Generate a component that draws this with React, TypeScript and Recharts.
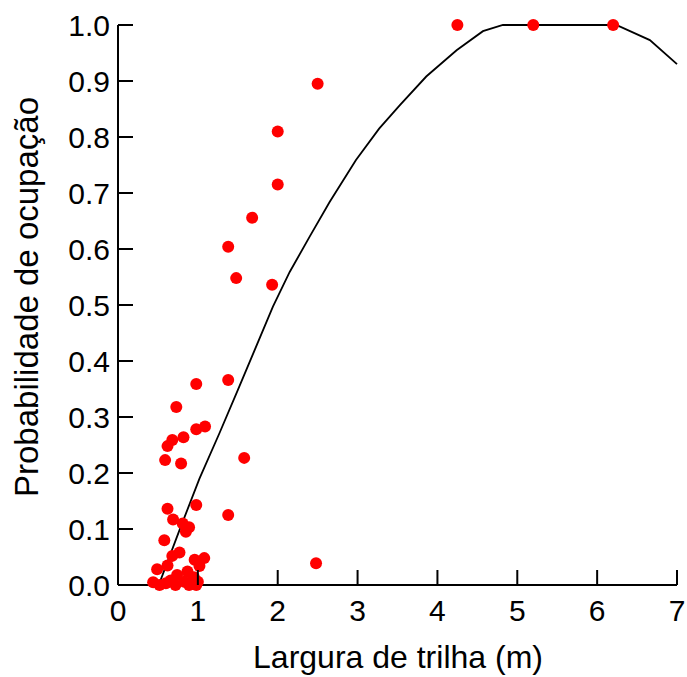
import React from "react";
import { ComposedChart, Scatter, Line, XAxis, YAxis, Label } from "recharts";

// trail width (m) and occupancy probability of each sampled point
const pointWidth = [
  4.25, 5.2, 6.2, 2.5, 2.0, 2.0, 1.68, 1.38, 1.48, 1.93, 1.38, 0.98, 0.73, 1.09,
  0.98, 0.82, 0.68, 0.62, 0.59, 0.79, 1.58, 0.62, 0.98, 1.38, 0.69, 0.81, 0.89,
  0.85, 0.58, 0.77, 0.68, 1.08, 0.96, 1.02, 0.62, 0.49, 2.48, 0.87, 0.74, 0.95,
  0.44, 0.66, 0.83, 1.0, 0.72, 0.89, 0.6, 0.98, 0.52,
];
const pointProb = [
  1.0, 1.0, 1.0, 0.895, 0.81, 0.715, 0.656, 0.604, 0.548, 0.536, 0.366, 0.359,
  0.318, 0.283, 0.278, 0.264, 0.259, 0.248, 0.223, 0.217, 0.227, 0.136, 0.143,
  0.125, 0.117, 0.11, 0.103, 0.095, 0.08, 0.058, 0.052, 0.048, 0.045, 0.034,
  0.035, 0.028, 0.039, 0.024, 0.018, 0.014, 0.005, 0.008, 0.006, 0.006, 0.0,
  0.0, 0.003, 0.0, 0.0,
];

// fitted curve
const curveWidth = [
  0.4, 0.51, 0.77, 1.02, 1.27, 1.5, 1.94, 2.15, 2.4, 2.65, 2.98, 3.27, 3.53,
  3.86, 4.24, 4.57, 4.82, 6.24, 6.66, 7.0,
];
const curveProb = [
  0.0, 0.0, 0.098, 0.19, 0.271, 0.348, 0.497, 0.559, 0.622, 0.684, 0.759, 0.815,
  0.857, 0.908, 0.955, 0.989, 1.0, 1.0, 0.973, 0.93,
];

const xTicks = [0, 1, 2, 3, 4, 5, 6, 7];
const yTicks = [0, 0.1, 0.2, 0.3, 0.4, 0.5, 0.6, 0.7, 0.8, 0.9, 1.0];

const points = pointWidth.map((x, i) => ({ x, y: pointProb[i] }));
const curve = curveWidth.map((x, i) => ({ x, y: curveProb[i] }));

const FONT = "'Liberation Sans', Arial, sans-serif";
const TICK_LEN = 15;

const YTick = ({ x, y, payload }: any) => (
  <g>
    <line x1={x} y1={y} x2={x + TICK_LEN} y2={y} stroke="#000" strokeWidth={2} />
    <text x={x - 8} y={y} dy={11} textAnchor="end" fontSize={30} fontFamily={FONT} fill="#000">
      {Number(payload.value).toFixed(1)}
    </text>
  </g>
);

const XTick = ({ x, y, payload }: any) => (
  <g>
    <line x1={x} y1={y} x2={x} y2={y - TICK_LEN} stroke="#000" strokeWidth={2} />
    <text x={x} y={y + 36} textAnchor="middle" fontSize={30} fontFamily={FONT} fill="#000">
      {payload.value}
    </text>
  </g>
);

const Dot = (props: any) => <circle cx={props.cx} cy={props.cy} r={6} fill="#ff0000" />;

export default function App() {
  return (
    <div style={{ position: "absolute", left: 0, top: 0, background: "#fff" }}>
      <ComposedChart
        width={687}
        height={677}
        margin={{ top: 25, right: 10, bottom: 0, left: 0 }}
      >
        <XAxis
          type="number"
          dataKey="x"
          domain={[0, 7]}
          ticks={xTicks}
          height={92}
          tickSize={0}
          tickMargin={0}
          tickLine={false}
          axisLine={{ stroke: "#000", strokeWidth: 2 }}
          tick={<XTick />}
          interval={0}
        >
          <Label
            content={() => (
              <text x={398} y={668} textAnchor="middle" fontSize={32} fontFamily={FONT} fill="#000">
                Largura de trilha (m)
              </text>
            )}
          />
        </XAxis>
        <YAxis
          type="number"
          dataKey="y"
          domain={[0, 1]}
          ticks={yTicks}
          width={118}
          tickSize={0}
          tickMargin={0}
          tickLine={false}
          axisLine={{ stroke: "#000", strokeWidth: 2 }}
          tick={<YTick />}
          interval={0}
        >
          <Label
            content={() => (
              <text
                x={38}
                y={297}
                transform="rotate(-90, 38, 297)"
                textAnchor="middle"
                fontSize={33}
                fontFamily={FONT}
                fill="#000"
              >
                Probabilidade de ocupação
              </text>
            )}
          />
        </YAxis>
        <Scatter data={points} dataKey="y" shape={<Dot />} isAnimationActive={false} />
        <Line
          data={curve}
          dataKey="y"
          type="linear"
          stroke="#000"
          strokeWidth={1.8}
          dot={false}
          activeDot={false}
          isAnimationActive={false}
        />
      </ComposedChart>
    </div>
  );
}
